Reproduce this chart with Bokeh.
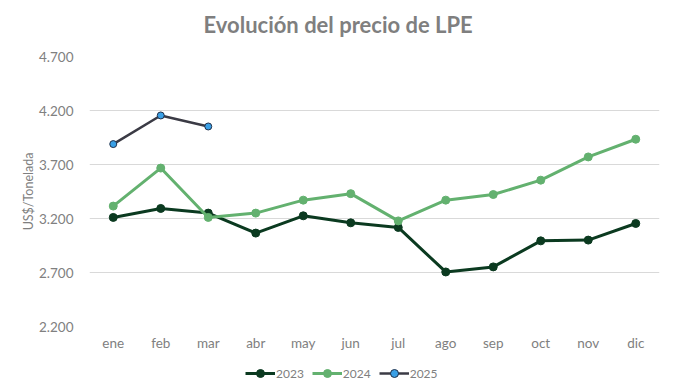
from bokeh.plotting import figure
from bokeh.models import FixedTicker, Legend, LegendItem, Range1d, Label
from bokeh.layouts import column
from bokeh.embed import file_html
from bokeh.resources import INLINE

months = ["ene", "feb", "mar", "abr", "may", "jun", "jul", "ago", "sep", "oct", "nov", "dic"]
v2023 = [3210, 3293, 3250, 3065, 3225, 3160, 3117, 2705, 2752, 2993, 3000, 3154]
v2024 = [3315, 3667, 3210, 3250, 3370, 3430, 3178, 3370, 3422, 3555, 3770, 3934]
v2025 = [3889, 4154, 4052]
m2025 = months[:3]
series_names = ["2023", "2024", "2025"]
yticks = [2200, 2700, 3200, 3700, 4200, 4700]
ytick_labels = ["2.200", "2.700", "3.200", "3.700", "4.200", "4.700"]
title_text = "Evolución del precio de LPE"

FONT = "Lato"
W = 666

# title strip
tt = figure(width=W, height=40, x_range=Range1d(0, 1), y_range=Range1d(0, 1),
            output_backend="svg", toolbar_location=None,
            min_border_left=89, min_border_right=7, min_border_top=0, min_border_bottom=0)
tt.axis.visible = False
tt.grid.visible = False
tt.outline_line_color = None
tt.add_layout(Label(x=0.2, y=0.4, text=title_text, text_font=FONT, text_font_size="22px",
                    text_font_style="bold", text_color="#7f7f7f", text_baseline="middle",
                    text_align="left"))

p = figure(width=W, height=316, x_range=months, y_range=(2200, 4700),
           output_backend="svg", toolbar_location=None,
           min_border_left=89, min_border_right=7, min_border_top=16, min_border_bottom=30)
p.outline_line_color = None

p.xgrid.grid_line_color = None
p.ygrid.grid_line_color = "#d9d9d9"
p.ygrid.grid_line_width = 1

p.yaxis.ticker = FixedTicker(ticks=yticks)
p.yaxis.major_label_overrides = {t: l for t, l in zip(yticks, ytick_labels)}
for ax in (p.xaxis, p.yaxis):
    ax.axis_line_color = None
    ax.major_tick_line_color = None
    ax.minor_tick_line_color = None
    ax.major_tick_out = 0
    ax.major_tick_in = 0
    ax.major_label_text_font = FONT
    ax.major_label_text_font_size = "13.5px"
    ax.major_label_text_color = "#808080"
p.yaxis.major_label_standoff = 16
p.xaxis.major_label_standoff = 8
p.yaxis.axis_label = "US$/Tonelada"
p.yaxis.axis_label_text_font = FONT
p.yaxis.axis_label_text_font_size = "12.5px"
p.yaxis.axis_label_text_font_style = "normal"
p.yaxis.axis_label_text_color = "#7f7f7f"
p.yaxis.axis_label_standoff = 0

c23 = "#0b3a20"
c24 = "#63b16f"
c25l = "#3b3b45"
c25m = "#3aa0e6"

p.line(months, v2023, line_color=c23, line_width=3)
p.scatter(months, v2023, size=8, fill_color=c23, line_color=c23)
p.line(months, v2024, line_color=c24, line_width=3)
p.scatter(months, v2024, size=8, fill_color=c24, line_color=c24)
p.line(m2025, v2025, line_color=c25l, line_width=2.5)
p.scatter(m2025, v2025, size=7, fill_color=c25m, line_color="#20304a", line_width=1)

# legend strip below the chart
lg = figure(width=W, height=30, x_range=Range1d(0, 1), y_range=Range1d(0, 1),
            output_backend="svg", toolbar_location=None,
            min_border_left=89, min_border_right=7, min_border_top=0, min_border_bottom=0)
lg.axis.visible = False
lg.grid.visible = False
lg.outline_line_color = None
nan = float("nan")
items = []
for name, lc, fc, oc, lw, ms in [(series_names[0], c23, c23, c23, 3, 8),
                                 (series_names[1], c24, c24, c24, 3, 8),
                                 (series_names[2], c25l, c25m, "#20304a", 2.5, 7)]:
    rl = lg.line([nan], [nan], line_color=lc, line_width=lw)
    rs = lg.scatter([nan], [nan], size=ms, fill_color=fc, line_color=oc, line_width=1)
    items.append(LegendItem(label=name, renderers=[rl, rs]))
legend = Legend(items=items, orientation="horizontal", location=(156, 3),
                label_text_font=FONT, label_text_font_size="12px",
                label_text_color="#808080", border_line_color=None,
                background_fill_alpha=0,
                glyph_width=30, glyph_height=20, spacing=8, label_standoff=1,
                padding=2, margin=0)
lg.add_layout(legend, "center")

layout = column(tt, p, lg, spacing=0)
open("out.html", "w").write(file_html(layout, INLINE))
